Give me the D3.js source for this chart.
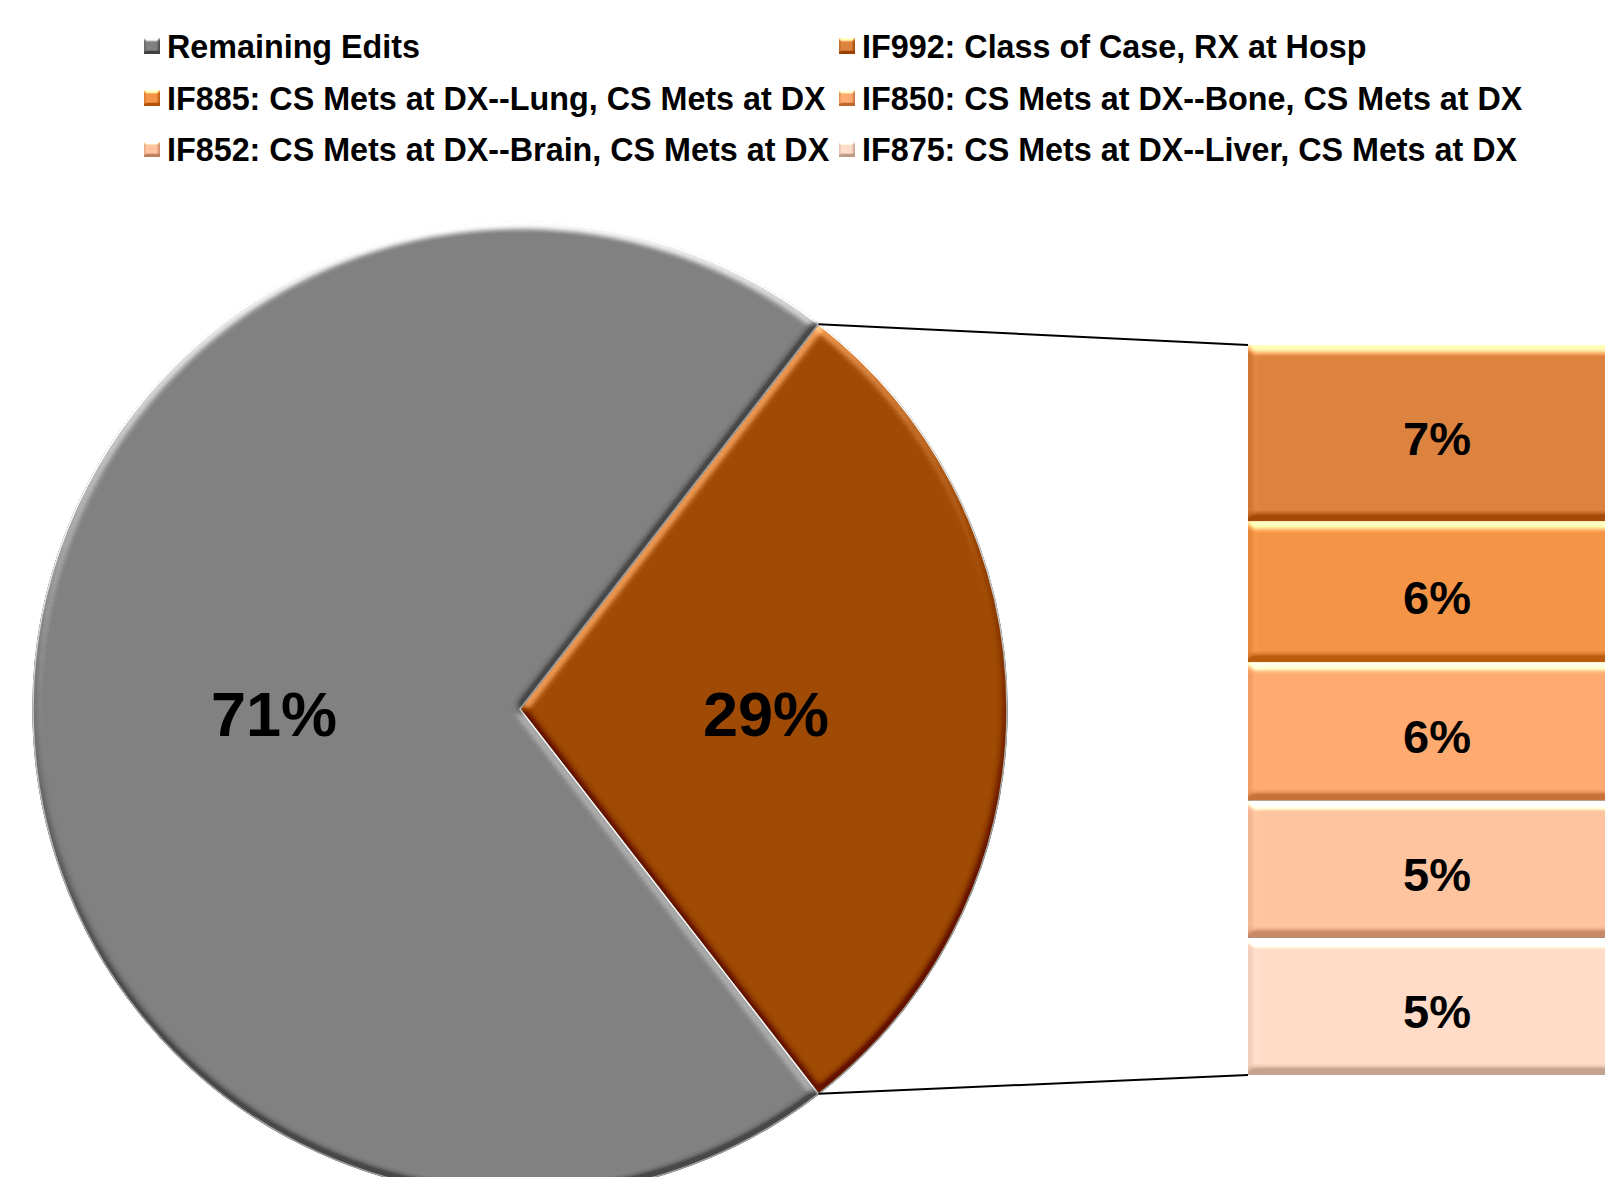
<!DOCTYPE html>
<html>
<head>
<meta charset="utf-8">
<script src="https://cdn.jsdelivr.net/npm/d3@7"></script>
<style>
  html, body { margin: 0; padding: 0; background: #ffffff; }
  svg { display: block; }
  text { font-family: "Liberation Sans", Arial, sans-serif; font-weight: bold; fill: #000; }
</style>
</head>
<body>
<svg id="chart" width="1605" height="1177"></svg>
<script>
// ---- data ----
const pieCategories = ["Remaining Edits", "Other"];
const pieValues = [71, 29];
const barCategories = [
  "IF992: Class of Case, RX at Hosp",
  "IF885: CS Mets at DX--Lung, CS Mets at DX",
  "IF850: CS Mets at DX--Bone, CS Mets at DX",
  "IF852: CS Mets at DX--Brain, CS Mets at DX",
  "IF875: CS Mets at DX--Liver, CS Mets at DX"
];
const barValues = [7.0, 5.6, 5.5, 5.45, 5.45];
const legendLabels = ["Remaining Edits"].concat(barCategories);

// ---- styles ----
const pieColors = { "Remaining Edits": "#808080", "Other": "#9E4A05" };
const barColors = ["#DB823E", "#F39346", "#FDA970", "#FEC29E", "#FEDBC7"];
const legendColors = [pieColors["Remaining Edits"]].concat(barColors);

const W = 1605, H = 1177;
const svg = d3.select("#chart");
const defs = svg.append("defs");

function bevelFilter(id, std, scale, az, dark) {
  const f = defs.append("filter").attr("id", id)
    .attr("x", "-5%").attr("y", "-5%").attr("width", "110%").attr("height", "110%")
    .attr("color-interpolation-filters", "sRGB");
  f.append("feGaussianBlur").attr("in", "SourceAlpha").attr("stdDeviation", std).attr("result", "blur");
  const dl = f.append("feDiffuseLighting").attr("in", "blur").attr("surfaceScale", scale)
    .attr("diffuseConstant", 1).attr("lighting-color", "white").attr("result", "diff");
  dl.append("feDistantLight").attr("azimuth", az).attr("elevation", 30);
  const ct = f.append("feComponentTransfer").attr("in", "diff").attr("result", "shade");
  ["feFuncR", "feFuncG", "feFuncB"].forEach(fn =>
    ct.append(fn).attr("type", "table").attr("tableValues", `${0.5 - dark} 0.5 1`));
  f.append("feComposite").attr("in", "SourceGraphic").attr("in2", "shade")
    .attr("operator", "arithmetic").attr("k1", 0).attr("k2", 1).attr("k3", 1).attr("k4", -0.5)
    .attr("result", "lit");
  f.append("feComposite").attr("in", "lit").attr("in2", "SourceAlpha").attr("operator", "in");
}
bevelFilter("bevel", 4, 8, 262, 0.22);
bevelFilter("bevelSmall", 1.5, 4, 262, 0.25);

// ---- pie ----
const cx = 520, cy = 709, R = 487;
const total = d3.sum(pieValues);
const otherFrac = pieValues[1] / total;
const start = Math.PI / 2 - Math.PI * otherFrac;
const pieData = [
  { name: pieCategories[1], v: pieValues[1] },
  { name: pieCategories[0], v: pieValues[0] }
];
const pie = d3.pie().sort(null).value(d => d.v).startAngle(start).endAngle(start + 2 * Math.PI);
const arcs = pie(pieData);
const arc = d3.arc().innerRadius(0).outerRadius(R);
const labelArc = d3.arc().innerRadius(R * 0.505).outerRadius(R * 0.505);

const gPie = svg.append("g").attr("transform", `translate(${cx},${cy})`);
gPie.selectAll("path.slice").data(arcs).join("path")
  .attr("class", "slice")
  .attr("d", arc)
  .attr("fill", d => pieColors[d.data.name])
  .attr("stroke", "#d8d8d8").attr("stroke-width", 1.5)
  .attr("filter", "url(#bevel)");

gPie.selectAll("text.plabel").data(arcs).join("text")
  .attr("class", "plabel")
  .attr("x", d => labelArc.centroid(d)[0])
  .attr("y", d => labelArc.centroid(d)[1])
  .attr("dy", "0.43em")
  .attr("text-anchor", "middle")
  .style("font-size", "63px")
  .text(d => Math.round(d.data.v) + "%");

// ---- bar of pie ----
const barX = 1248, barW = 378, barTop = 345, barBottom = 1075;
const otherTotal = d3.sum(barValues);
const y = d3.scaleLinear().domain([0, otherTotal]).range([barTop, barBottom]);
let acc = 0;
const stack = barValues.map((v, i) => { const s = { i, v, y0: acc, y1: acc + v }; acc += v; return s; });

// connector lines
const otherArc = arcs[0];
const pt = a => [cx + R * Math.sin(a), cy - R * Math.cos(a)];
const pTop = pt(otherArc.startAngle), pBot = pt(otherArc.endAngle);
svg.append("line").attr("x1", pTop[0]).attr("y1", pTop[1]).attr("x2", barX).attr("y2", y(0))
  .attr("stroke", "#000").attr("stroke-width", 2);
svg.append("line").attr("x1", pBot[0]).attr("y1", pBot[1]).attr("x2", barX).attr("y2", y(otherTotal))
  .attr("stroke", "#000").attr("stroke-width", 2);

const gBar = svg.append("g");
gBar.selectAll("rect").data(stack).join("rect")
  .attr("x", barX).attr("width", barW)
  .attr("y", d => y(d.y0)).attr("height", d => y(d.y1) - y(d.y0))
  .attr("fill", d => barColors[d.i])
  .attr("filter", "url(#bevel)");
gBar.selectAll("text").data(stack).join("text")
  .attr("x", barX + barW / 2)
  .attr("y", d => (y(d.y0) + y(d.y1)) / 2)
  .attr("dy", "0.47em")
  .attr("text-anchor", "middle")
  .style("font-size", "47px")
  .text(d => Math.round(d.v) + "%");

// ---- legend ----
const legCols = [144, 839];
const legRows = [58, 110, 161];
const gLeg = svg.append("g");
const items = gLeg.selectAll("g").data(legendLabels).join("g")
  .attr("transform", (d, i) => `translate(${legCols[i % 2]},${legRows[Math.floor(i / 2)]})`);
items.append("rect").attr("x", 0).attr("y", -20).attr("width", 16).attr("height", 16)
  .attr("fill", (d, i) => legendColors[i]).attr("filter", "url(#bevelSmall)");
items.append("text").attr("x", 23).attr("y", 0)
  .style("font-size", "32.3px")
  .text(d => d);
</script>
</body>
</html>
